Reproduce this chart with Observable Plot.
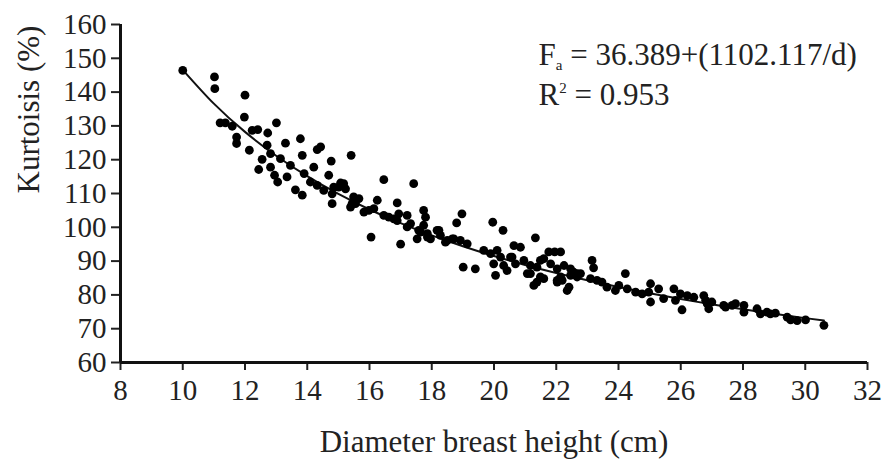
<!DOCTYPE html>
<html>
<head>
<meta charset="utf-8">
<script src="https://cdn.jsdelivr.net/npm/d3@7"></script>
<script src="https://cdn.jsdelivr.net/npm/@observablehq/plot@0.6"></script>
<style>
  html, body { margin: 0; padding: 0; background: #fff; }
</style>
</head>
<body>
<div id="chart"></div>
<script>
// Observed points: diameter breast height (cm) and kurtoisis (%)
const dbh = [
  10.0, 11.02, 11.03, 12.0, 11.98, 11.2, 11.37, 11.59, 11.73, 11.73,
  12.14, 12.23, 12.41, 12.73, 13.01, 12.71, 12.55, 12.44, 12.82, 12.95,
  13.05, 13.35, 13.3, 13.78, 13.84, 13.62, 13.84, 14.21, 14.1, 14.32,
  12.82, 13.14, 13.46, 14.43, 14.77, 15.41, 14.69, 13.9, 14.32, 14.53,
  14.8, 15.01, 15.17, 14.8, 15.39, 15.23, 15.49, 15.55, 16.46, 17.42,
  15.82, 15.98, 16.14, 16.25, 16.46, 16.62, 16.78, 16.94, 16.89, 17.21,
  17.32, 16.05, 17.0, 17.74, 17.8, 17.58, 17.74, 17.86, 17.53, 17.96,
  18.23, 18.5, 18.71, 18.92, 19.14, 18.97, 18.8, 19.01, 19.4, 19.96,
  20.29, 19.67, 19.89, 20.1, 20.21, 19.99, 20.31, 20.05, 20.58, 20.69,
  20.42, 20.64, 20.85, 21.33, 20.96, 21.17, 21.38, 21.17, 21.38, 21.6,
  22.03, 22.41, 22.35, 21.76, 22.14, 21.6, 21.82, 22.03, 22.25, 22.46,
  22.67, 21.95, 22.56, 22.78, 23.15, 23.2, 23.1, 23.31, 22.19, 22.46,
  23.47, 23.63, 23.9, 24.22, 24.01, 24.28, 24.55, 24.76, 25.03, 24.97,
  25.03, 25.29, 25.45, 25.78, 25.83, 26.04, 25.99, 26.21, 26.42, 26.74,
  26.85, 26.9, 26.8, 27.0, 27.38, 27.65, 27.76, 28.03, 28.03, 28.45,
  28.56, 28.77, 29.04, 29.42, 29.53, 30.01, 30.6, 28.88, 29.74, 27.44,
  15.66, 15.07, 16.89, 17.21, 17.64, 17.86, 18.44, 18.66, 18.28, 18.17,
  20.53, 21.07, 21.28, 21.49, 21.49, 22.14, 22.03, 22.67, 14.85, 15.44
];
const kurt = [
  146.4, 144.5, 141.0, 139.1, 132.6, 130.9, 130.9, 129.9, 126.7, 124.8,
  122.8, 128.7, 128.9, 127.9, 130.9, 124.3, 120.1, 117.1, 117.8, 115.4,
  113.4, 114.9, 124.9, 126.2, 121.3, 111.1, 109.5, 117.8, 113.4, 123.0,
  121.8, 120.3, 118.3, 123.8, 119.6, 121.3, 115.4, 115.9, 112.4, 110.9,
  109.9, 111.9, 112.9, 107.0, 106.0, 111.4, 109.0, 107.0, 114.1, 112.9,
  104.5, 105.0, 105.5, 108.0, 103.5, 103.0, 102.5, 104.0, 107.2, 103.5,
  101.1, 97.1, 95.0, 105.0, 103.0, 99.1, 100.6, 98.1, 96.6, 96.6,
  99.1, 96.1, 96.6, 96.1, 95.1, 104.0, 101.3, 88.2, 87.7, 101.5,
  99.1, 93.2, 92.2, 93.2, 91.2, 89.2, 88.7, 85.8, 91.2, 89.2,
  87.2, 94.6, 94.1, 96.9, 90.2, 88.7, 88.2, 86.3, 83.8, 84.8,
  84.3, 82.3, 81.3, 92.7, 92.7, 90.7, 89.2, 87.7, 88.7, 87.7,
  86.3, 92.7, 86.7, 86.3, 90.2, 88.0, 84.8, 84.3, 84.3, 85.8,
  83.8, 82.3, 81.3, 86.3, 82.8, 81.8, 80.8, 80.3, 83.3, 80.8,
  77.9, 81.8, 78.9, 81.8, 78.4, 75.6, 80.3, 79.8, 79.3, 79.8,
  77.4, 75.9, 78.4, 77.9, 76.9, 76.9, 77.4, 76.9, 74.9, 75.9,
  74.4, 74.9, 74.6, 73.4, 72.6, 72.6, 71.0, 74.4, 72.4, 76.4,
  108.5, 113.1, 102.0, 100.1, 98.6, 97.1, 95.6, 96.6, 97.6, 99.1,
  91.2, 86.3, 82.8, 85.3, 90.2, 85.3, 83.8, 85.3, 111.9, 107.0
];

// Fitted curve as drawn
const fitD = [10, 11, 12, 13, 14, 15, 16, 17, 18, 19, 20, 21, 22, 23, 24, 25, 26, 27, 28, 29, 30, 30.6];
const fitK = [146.60, 136.58, 128.23, 121.17, 115.11, 109.86, 105.27, 101.22, 97.62, 94.40, 91.49,
              88.87, 86.48, 84.31, 82.31, 80.47, 78.78, 77.21, 75.75, 74.39, 73.13, 72.41];

// Axis ticks and texts
const xTicks = [8, 10, 12, 14, 16, 18, 20, 22, 24, 26, 28, 30, 32];
const yTicks = [60, 70, 80, 90, 100, 110, 120, 130, 140, 150, 160];
const xLabel = "Diameter breast height (cm)";
const yLabel = "Kurtoisis (%)";
const eqParts = ["F", "a", " = 36.389+(1102.117/d)"];
const r2Parts = ["R", "2", " = 0.953"];

const points = dbh.map((d, i) => ({d, k: kurt[i]}));
const fit = fitD.map((d, i) => ({d, k: fitK[i]}));

const chart = Plot.plot({
  width: 882,
  height: 465,
  marginLeft: 120,
  marginRight: 15,
  marginTop: 24,
  marginBottom: 103,
  style: {fontFamily: "'Liberation Serif', serif", fontSize: "29px", color: "#222", background: "#fff"},
  x: {domain: [8, 32]},
  y: {domain: [60, 160]},
  marks: [
    Plot.axisX({ticks: xTicks, tickSize: 8, tickPadding: 9, strokeWidth: 2, fontSize: 29, label: null, tickFormat: d => String(d)}),
    Plot.axisY({ticks: yTicks, tickSize: 9, tickPadding: 5, strokeWidth: 2, fontSize: 29, label: null, tickFormat: d => String(d)}),
    Plot.ruleX([8], {strokeWidth: 3, stroke: "#111"}),
    Plot.ruleY([60], {strokeWidth: 3, stroke: "#111"}),
    Plot.line(fit, {x: "d", y: "k", stroke: "#111", strokeWidth: 2, curve: "natural"}),
    Plot.dot(points, {x: "d", y: "k", r: 4.4, fill: "#000", stroke: "none"}),
    Plot.text([xLabel], {frameAnchor: "bottom", dy: 89, fontSize: 31, fill: "#222"}),
    Plot.text([yLabel], {frameAnchor: "left", rotate: -90, dx: -91, fontSize: 31, fill: "#222"}),
    Plot.text([eqParts.join("")], {frameAnchor: "top-left", dx: 418, dy: 18, textAnchor: "start", fontSize: 31, fill: "#222"}),
    Plot.text([r2Parts.join("")], {frameAnchor: "top-left", dx: 418, dy: 58, textAnchor: "start", fontSize: 31, fill: "#222"})
  ]
});

document.getElementById("chart").appendChild(chart);

// Subscript / superscript formatting
d3.select(chart).selectAll("text").each(function() {
  const t = d3.select(this);
  const s = this.textContent;
  if (s === eqParts.join("")) {
    t.text(null);
    t.append("tspan").text(eqParts[0]);
    t.append("tspan").attr("font-size", 15).attr("dy", 5).text(eqParts[1]);
    t.append("tspan").attr("dy", -5).text(eqParts[2]);
  } else if (s === r2Parts.join("")) {
    t.text(null);
    t.append("tspan").text(r2Parts[0]);
    t.append("tspan").attr("font-size", 15).attr("dy", -12).text(r2Parts[1]);
    t.append("tspan").attr("dy", 12).text(r2Parts[2]);
  }
});
</script>
</body>
</html>
